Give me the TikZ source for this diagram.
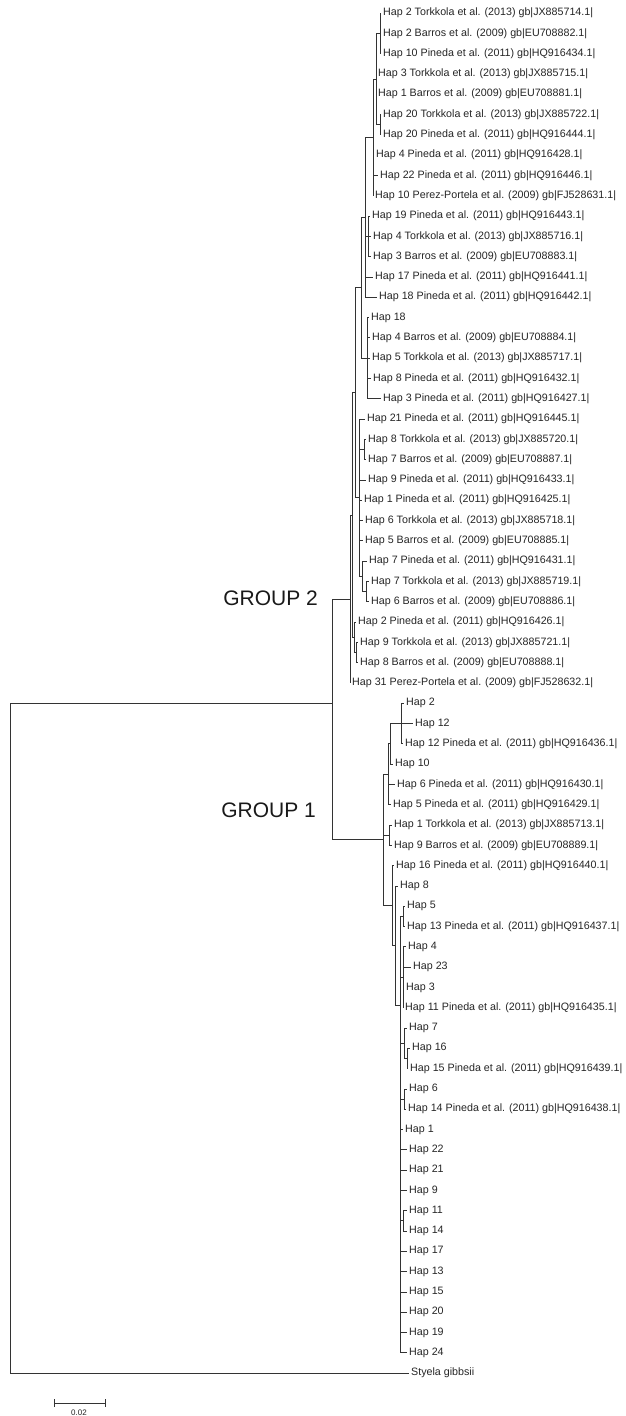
\documentclass[tikz,border=0pt]{standalone}
\usepackage{fontspec}
\setmainfont{Liberation Sans}
\begin{document}
\begin{tikzpicture}[x=1pt,y=-1pt,
  br/.style={draw=black!80, line width=0.7pt},
  lab/.style={anchor=west, inner sep=0pt, xshift=2pt, font=\fontsize{10.7}{13}\selectfont, text=black!85},
  grp/.style={anchor=east, inner sep=0pt, font=\fontsize{21}{25}\selectfont, text=black!90},
  sclab/.style={inner sep=0pt, font=\fontsize{8}{9}\selectfont, text=black!85}]
\newcommand\leaf[4]{\coordinate (#1) at (#2,{13+(#3-1)*20.3}); \node[lab] (#1L) at (#1) {#4};}
\newcommand\kids[2]{\foreach \kid in {#2}{\draw[br] (#1) |- (\kid);}}
\fill[white] (0,0) rectangle (625,1416);
\useasboundingbox (0,0) rectangle (625,1416);
% ---- GROUP 2 leaves
\leaf{t1}{381}{1}{Hap 2 Torkkola et al. (2013) gb|JX885714.1|}
\leaf{t2}{381}{2}{Hap 2 Barros et al. (2009) gb|EU708882.1|}
\leaf{t3}{381}{3}{Hap 10 Pineda et al. (2011) gb|HQ916434.1|}
\leaf{t4}{376}{4}{Hap 3 Torkkola et al. (2013) gb|JX885715.1|}
\leaf{t5}{376}{5}{Hap 1 Barros et al. (2009) gb|EU708881.1|}
\leaf{t6}{381}{6}{Hap 20 Torkkola et al. (2013) gb|JX885722.1|}
\leaf{t7}{381}{7}{Hap 20 Pineda et al. (2011) gb|HQ916444.1|}
\leaf{t8}{374}{8}{Hap 4 Pineda et al. (2011) gb|HQ916428.1|}
\leaf{t9}{378}{9}{Hap 22 Pineda et al. (2011) gb|HQ916446.1|}
\leaf{t10}{373}{10}{Hap 10 Perez-Portela et al. (2009) gb|FJ528631.1|}
\leaf{t11}{370}{11}{Hap 19 Pineda et al. (2011) gb|HQ916443.1|}
\leaf{t12}{371}{12}{Hap 4 Torkkola et al. (2013) gb|JX885716.1|}
\leaf{t13}{371}{13}{Hap 3 Barros et al. (2009) gb|EU708883.1|}
\leaf{t14}{373}{14}{Hap 17 Pineda et al. (2011) gb|HQ916441.1|}
\leaf{t15}{377}{15}{Hap 18 Pineda et al. (2011) gb|HQ916442.1|}
\leaf{t16}{369}{16}{Hap 18}
\leaf{t17}{370}{17}{Hap 4 Barros et al. (2009) gb|EU708884.1|}
\leaf{t18}{370}{18}{Hap 5 Torkkola et al. (2013) gb|JX885717.1|}
\leaf{t19}{371}{19}{Hap 8 Pineda et al. (2011) gb|HQ916432.1|}
\leaf{t20}{381}{20}{Hap 3 Pineda et al. (2011) gb|HQ916427.1|}
\leaf{t21}{365}{21}{Hap 21 Pineda et al. (2011) gb|HQ916445.1|}
\leaf{t22}{366}{22}{Hap 8 Torkkola et al. (2013) gb|JX885720.1|}
\leaf{t23}{366}{23}{Hap 7 Barros et al. (2009) gb|EU708887.1|}
\leaf{t24}{366}{24}{Hap 9 Pineda et al. (2011) gb|HQ916433.1|}
\leaf{t25}{362}{25}{Hap 1 Pineda et al. (2011) gb|HQ916425.1|}
\leaf{t26}{363}{26}{Hap 6 Torkkola et al. (2013) gb|JX885718.1|}
\leaf{t27}{363}{27}{Hap 5 Barros et al. (2009) gb|EU708885.1|}
\leaf{t28}{367}{28}{Hap 7 Pineda et al. (2011) gb|HQ916431.1|}
\leaf{t29}{369}{29}{Hap 7 Torkkola et al. (2013) gb|JX885719.1|}
\leaf{t30}{369}{30}{Hap 6 Barros et al. (2009) gb|EU708886.1|}
\leaf{t31}{356}{31}{Hap 2 Pineda et al. (2011) gb|HQ916426.1|}
\leaf{t32}{358}{32}{Hap 9 Torkkola et al. (2013) gb|JX885721.1|}
\leaf{t33}{358}{33}{Hap 8 Barros et al. (2009) gb|EU708888.1|}
\leaf{t34}{350}{34}{Hap 31 Perez-Portela et al. (2009) gb|FJ528632.1|}
% ---- GROUP 1 leaves
\leaf{t35}{404}{35}{Hap 2}
\leaf{t36}{413}{36}{Hap 12}
\leaf{t37}{403}{37}{Hap 12 Pineda et al. (2011) gb|HQ916436.1|}
\leaf{t38}{393}{38}{Hap 10}
\leaf{t39}{395}{39}{Hap 6 Pineda et al. (2011) gb|HQ916430.1|}
\leaf{t40}{391}{40}{Hap 5 Pineda et al. (2011) gb|HQ916429.1|}
\leaf{t41}{392}{41}{Hap 1 Torkkola et al. (2013) gb|JX885713.1|}
\leaf{t42}{392}{42}{Hap 9 Barros et al. (2009) gb|EU708889.1|}
\leaf{t43}{394}{43}{Hap 16 Pineda et al. (2011) gb|HQ916440.1|}
\leaf{t44}{398}{44}{Hap 8}
\leaf{t45}{405}{45}{Hap 5}
\leaf{t46}{405}{46}{Hap 13 Pineda et al. (2011) gb|HQ916437.1|}
\leaf{t47}{406}{47}{Hap 4}
\leaf{t48}{411}{48}{Hap 23}
\leaf{t49}{404}{49}{Hap 3}
\leaf{t50}{403}{50}{Hap 11 Pineda et al. (2011) gb|HQ916435.1|}
\leaf{t51}{407}{51}{Hap 7}
\leaf{t52}{410}{52}{Hap 16}
\leaf{t53}{408}{53}{Hap 15 Pineda et al. (2011) gb|HQ916439.1|}
\leaf{t54}{407}{54}{Hap 6}
\leaf{t55}{406}{55}{Hap 14 Pineda et al. (2011) gb|HQ916438.1|}
\leaf{t56}{403}{56}{Hap 1}
\leaf{t57}{407}{57}{Hap 22}
\leaf{t58}{407}{58}{Hap 21}
\leaf{t59}{407}{59}{Hap 9}
\leaf{t60}{407}{60}{Hap 11}
\leaf{t61}{407}{61}{Hap 14}
\leaf{t62}{407}{62}{Hap 17}
\leaf{t63}{407}{63}{Hap 13}
\leaf{t64}{407}{64}{Hap 15}
\leaf{t65}{407}{65}{Hap 20}
\leaf{t66}{407}{66}{Hap 19}
\leaf{t67}{407}{67}{Hap 24}
\leaf{t68}{409}{68}{Styela gibbsii}
% ---- internal nodes
\coordinate (F1a1) at (380,33.3);
\coordinate (F1a2) at (380,124.65);
\coordinate (F1a) at (376,79);
\coordinate (F1) at (373,137.3);
\coordinate (F2) at (368,236.3);
\coordinate (F) at (365,217.3);
\coordinate (F3) at (367,358.1);
\coordinate (FF) at (361,287.7);
\coordinate (H1) at (364,449.5);
\coordinate (H2a) at (366,591.5);
\coordinate (H2) at (362,576.3);
\coordinate (H) at (359,497.7);
\coordinate (D) at (355,392.7);
\coordinate (E1) at (356,652.5);
\coordinate (E) at (354,637.2);
\coordinate (C) at (352,515);
\coordinate (G2) at (350,599);
\coordinate (A1a) at (401,723.5);
\coordinate (A1) at (390,743.8);
\coordinate (A) at (388,774.2);
\coordinate (A2) at (389,835.2);
\coordinate (B3) at (403,916.3);
\coordinate (B4) at (403,977.2);
\coordinate (B5a) at (407,1058.5);
\coordinate (B5) at (404,1043.2);
\coordinate (B6) at (404,1099);
\coordinate (B7) at (403,1220.8);
\coordinate (B2) at (400,1005);
\coordinate (B1) at (395,945.5);
\coordinate (B) at (392,905.5);
\coordinate (G1) at (383,839.8);
\coordinate (I) at (332,703);
\coordinate (R) at (10,1046.3);
% ---- branches
\kids{F1a1}{t1,t2,t3}
\kids{F1a2}{t6,t7}
\kids{F1a}{F1a1,t4,t5,F1a2}
\kids{F1}{F1a,t8,t9,t10}
\kids{F2}{t11,t12,t13}
\kids{F}{F1,F2,t14,t15}
\kids{F3}{t16,t17,t18,t19,t20}
\kids{FF}{F,F3}
\kids{H1}{t22,t23}
\kids{H2a}{t29,t30}
\kids{H2}{t28,H2a}
\kids{H}{t21,H1,t24,t25,t26,t27,H2}
\kids{D}{FF,H}
\kids{E1}{t32,t33}
\kids{E}{t31,E1}
\kids{C}{D,E}
\kids{G2}{C,t34}
\kids{A1a}{t35,t36,t37}
\kids{A1}{A1a,t38}
\kids{A}{A1,t39,t40}
\kids{A2}{t41,t42}
\kids{B3}{t45,t46}
\kids{B4}{t47,t48,t49,t50}
\kids{B5a}{t52,t53}
\kids{B5}{t51,B5a}
\kids{B6}{t54,t55}
\kids{B7}{t60,t61}
\kids{B2}{B3,B4,B5,B6,t56,t57,t58,t59,B7,t62,t63,t64,t65,t66,t67}
\kids{B1}{t44,B2}
\kids{B}{t43,B1}
\kids{G1}{A,A2,B}
\kids{I}{G2,G1}
\kids{R}{I,t68}
% ---- group labels
\node[grp] (g2) at (318,598) {GROUP 2};
\node[grp] (g1) at (316,810) {GROUP 1};
% ---- scale bar
\coordinate (s0) at (54,1403);
\coordinate (s1) at (105,1403);
\coordinate (s0a) at (54,1399);
\coordinate (s0b) at (54,1407);
\coordinate (s1a) at (105,1399);
\coordinate (s1b) at (105,1407);
\draw[br] (s0) -- (s1);
\draw[br] (s0a) -- (s0b);
\draw[br] (s1a) -- (s1b);
\node[sclab] (sl) at (79,1413) {0.02};
\end{tikzpicture}
\end{document}
